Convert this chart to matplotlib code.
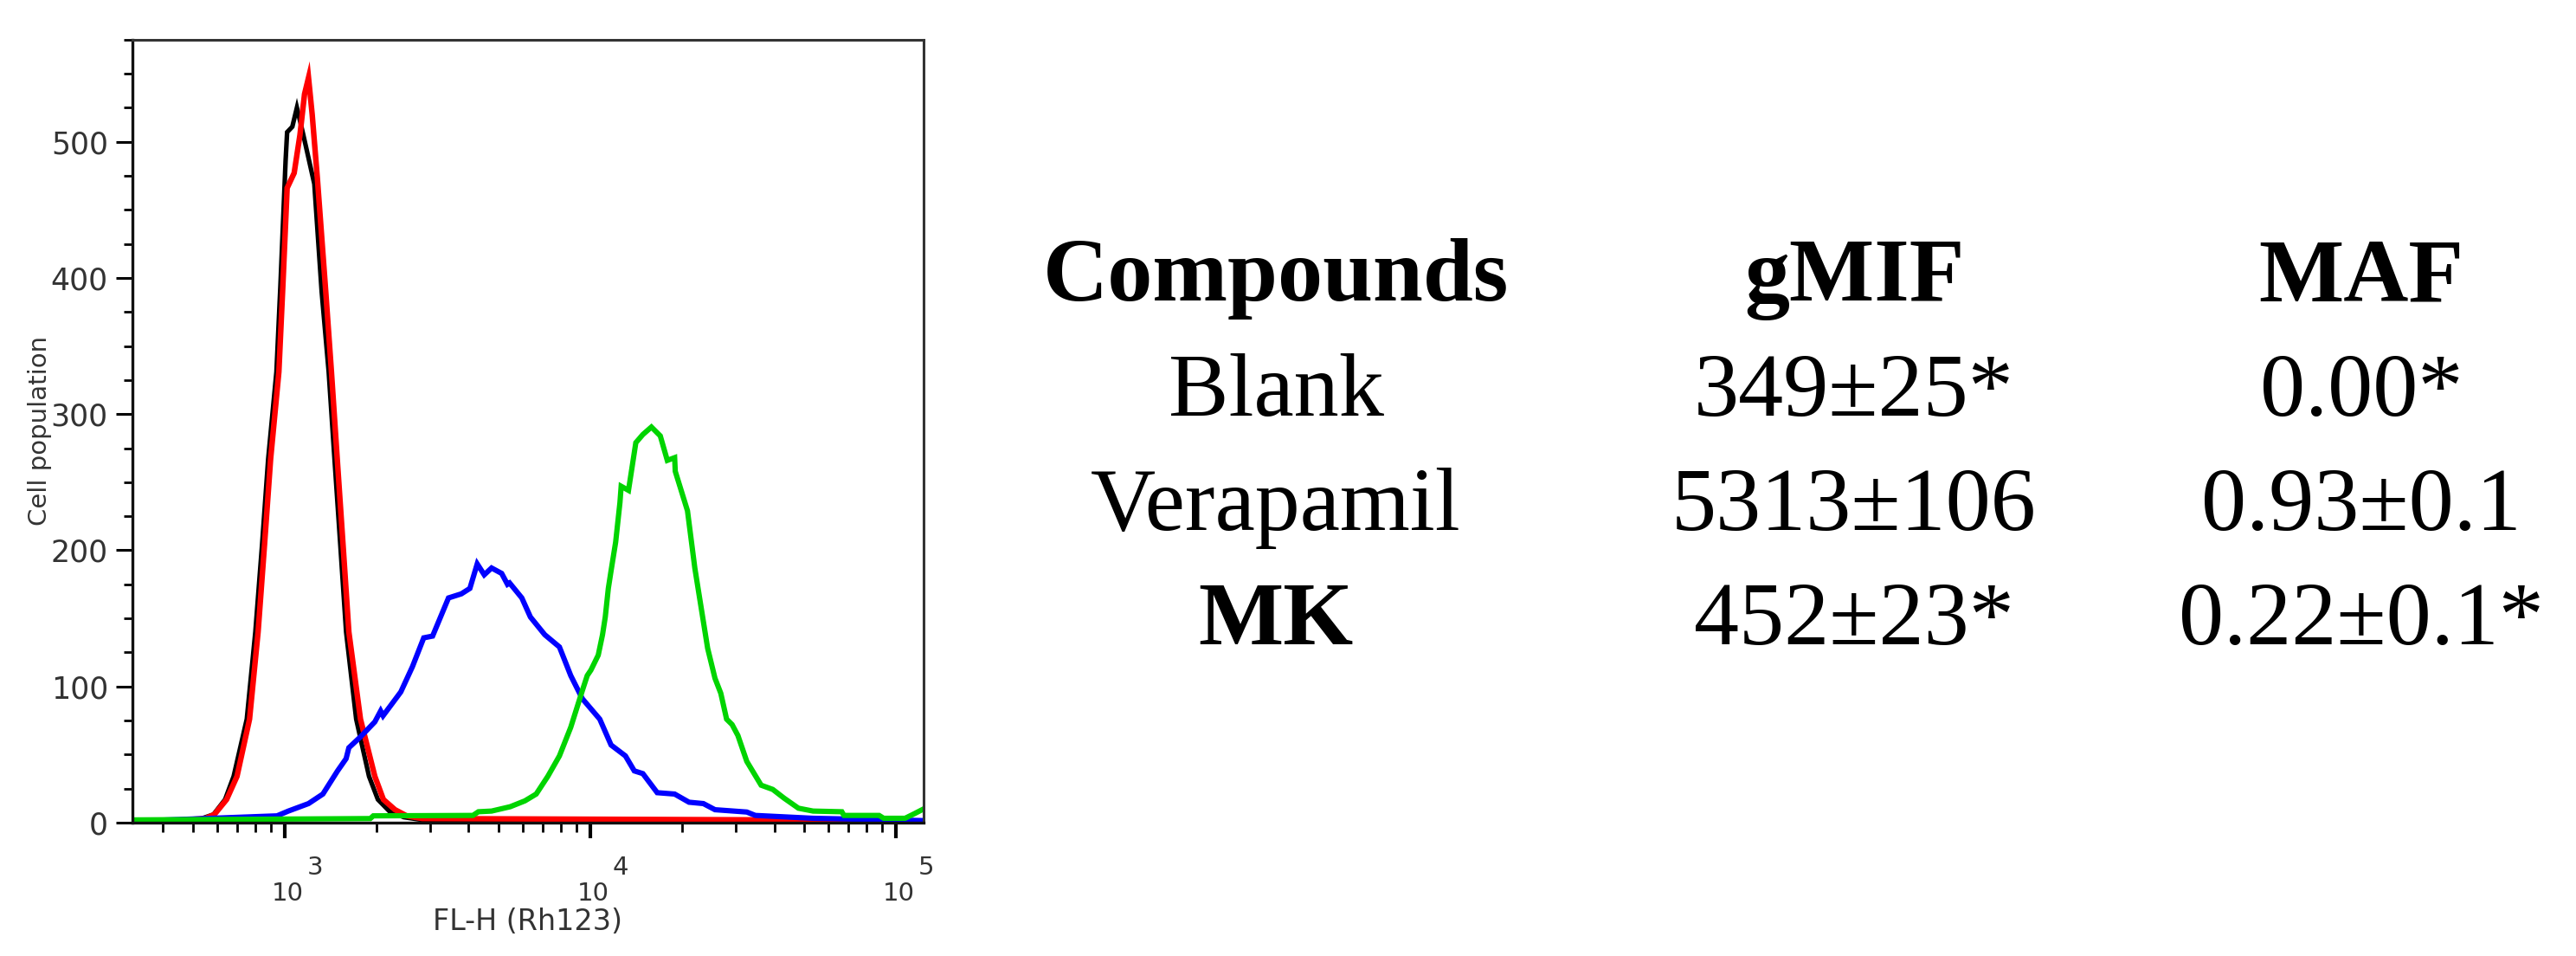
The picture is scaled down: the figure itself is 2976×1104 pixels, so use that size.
import numpy as np
import matplotlib.pyplot as plt
import matplotlib.transforms as mtransforms
from matplotlib.ticker import FixedLocator, MultipleLocator, LogLocator, NullFormatter

W_PX = 2976
H_PX = 1104
DPI = 100

# histogram traces: log10 of FL-H (Rh123) and cell counts
black_log = [2.50, 2.60, 2.70, 2.728, 2.767, 2.805, 2.833, 2.876, 2.904, 2.926, 2.946, 2.973,
             2.986, 3.003, 3.008, 3.025, 3.040, 3.059, 3.097, 3.121, 3.144, 3.163, 3.182,
             3.201, 3.234, 3.276, 3.305, 3.342, 3.39, 3.45, 5.09]
black_cnt = [1, 1, 2, 3, 6, 17, 34, 76, 140, 204, 267, 331,
             394, 486, 507, 511, 525, 507, 469, 390, 331, 267, 204,
             140, 76, 34, 17, 8.5, 4, 2, 1]

red_log = [2.50, 2.60, 2.74, 2.77, 2.81, 2.844, 2.885, 2.913, 2.934, 2.954, 2.981, 2.994,
           3.003, 3.008, 3.031, 3.050, 3.065, 3.078, 3.090, 3.107, 3.135, 3.153, 3.172,
           3.191, 3.210, 3.248, 3.295, 3.323, 3.361, 3.399, 3.45, 4.60, 4.65, 5.09]
red_cnt = [1, 1, 3, 6, 17, 34, 76, 140, 204, 267, 331, 394,
           440, 466, 477, 505, 535, 547, 520, 473, 388, 331, 267,
           204, 140, 76, 34, 17, 9.5, 5, 3, 2, 1, 1]

blue_log = [2.50, 2.975, 3.012, 3.078, 3.125, 3.173, 3.201, 3.21, 3.248, 3.295, 3.314, 3.322,
            3.38, 3.418, 3.455, 3.484, 3.536, 3.578, 3.606, 3.630, 3.653, 3.677, 3.71,
            3.729, 3.736, 3.776, 3.804, 3.851, 3.899, 3.936, 3.974, 4.031, 4.068, 4.115,
            4.144, 4.172, 4.219, 4.276, 4.323, 4.37, 4.408, 4.512, 4.54, 4.729, 5.09]
blue_cnt = [1, 5, 8.5, 14, 21, 38, 47, 55, 63, 74, 82, 78.5,
            96, 114.5, 135.7, 137, 165, 168, 172, 190, 182, 187, 183,
            175, 176, 165, 151, 138, 129, 108, 91, 76, 57, 49,
            38, 36, 22, 21, 15, 14, 9.5, 7.8, 5.3, 3.2, 1.5]

green_log = [2.50, 3.28, 3.29, 3.616, 3.634, 3.677, 3.738, 3.786, 3.823, 3.861, 3.899, 3.936,
             3.974, 3.99, 4.002, 4.026, 4.04, 4.049, 4.059, 4.068, 4.083, 4.097, 4.101,
             4.125, 4.149, 4.172, 4.2, 4.229, 4.252, 4.276, 4.278, 4.318, 4.342, 4.384,
             4.408, 4.427, 4.446, 4.464, 4.483, 4.512, 4.559, 4.597, 4.634, 4.681, 4.729,
             4.823, 4.83, 4.945, 4.96, 5.03, 5.059, 5.09]
green_cnt = [2, 3, 5, 5.3, 8, 8.5, 11.7, 16, 21, 34, 49, 70,
             97, 108, 112, 123, 138, 151, 172, 185, 206, 235, 247,
             244, 279, 285, 290.5, 284, 266, 268, 258, 229, 187, 128,
             106, 95, 76, 72, 64, 45, 27.5, 24.4, 18, 10.6, 8.5,
             8, 5.3, 5.3, 3.2, 3.2, 6.4, 10]

decades = [3, 4, 5]
y_major = [0, 100, 200, 300, 400, 500]

table_header = ["Compounds", "gMIF", "MAF"]
compounds = ["Blank", "Verapamil", "MK"]
gmif = ["349±25*", "5313±106", "452±23*"]
maf = ["0.00*", "0.93±0.1", "0.22±0.1*"]
bold_compounds = ["MK"]


def px_to_fig(x, y):
    return x / W_PX, 1 - y / H_PX


fig = plt.figure(figsize=(W_PX / DPI, H_PX / DPI), dpi=DPI)

ax_l, ax_t, ax_r, ax_b = 152.7, 45.7, 1066.7, 950.0
ax = fig.add_axes([ax_l / W_PX, 1 - ax_b / H_PX, (ax_r - ax_l) / W_PX, (ax_b - ax_t) / H_PX])

traces = [
    (black_log, black_cnt, "#000000", 3.8),
    (red_log, red_cnt, "#ff0000", 4.6),
    (blue_log, blue_cnt, "#0000ff", 4.4),
    (green_log, green_cnt, "#00d400", 4.4),
]
for lg, cnt, col, lw in traces:
    ax.plot(10 ** np.array(lg), cnt, color=col, lw=lw, solid_joinstyle="miter")

ax.set_xscale("log")
ax.set_xlim(10 ** 2.501, 10 ** 5.0897)
ax.set_ylim(0, 575)

ax.yaxis.set_major_locator(FixedLocator(y_major))
ax.yaxis.set_minor_locator(MultipleLocator(25))
ax.xaxis.set_major_locator(LogLocator(base=10, numticks=10))
ax.xaxis.set_minor_locator(LogLocator(base=10, subs=range(2, 10), numticks=20))
ax.xaxis.set_major_formatter(NullFormatter())
ax.xaxis.set_minor_formatter(NullFormatter())

ax.tick_params(axis="y", which="major", direction="out", length=14, width=2.2,
               labelsize=25, labelcolor="#333333", pad=6)
ax.tick_params(axis="y", which="minor", direction="out", length=7, width=2.0)
ax.tick_params(axis="x", which="major", direction="out", length=13, width=3.0)
ax.tick_params(axis="x", which="minor", direction="out", length=8, width=2.0)

for side in ["left", "bottom"]:
    ax.spines[side].set_linewidth(2.4)
    ax.spines[side].set_color("#111111")
for side in ["top", "right"]:
    ax.spines[side].set_linewidth(2.2)
    ax.spines[side].set_color("#333333")

# decade labels: "10" with a large exponent, as the cytometer software draws them
base_tr = mtransforms.offset_copy(ax.get_xaxis_transform(), fig=fig, x=3 * 72 / DPI, y=0, units="points")
sup_tr = mtransforms.offset_copy(ax.get_xaxis_transform(), fig=fig, x=26 * 72 / DPI, y=0, units="points")
for d in decades:
    ax.text(10 ** d, -0.1, "10", transform=base_tr, ha="center", va="baseline",
            fontsize=21, color="#333333")
    ax.text(10 ** d, -0.066, str(d), transform=sup_tr, ha="left", va="baseline",
            fontsize=21, color="#333333")

ax.text(0.5, -0.137, "FL-H (Rh123)", transform=ax.transAxes, ha="center", va="baseline",
        fontsize=24, color="#333333")
ax.text(-0.117, 0.5, "Cell population", transform=ax.transAxes, ha="center", va="center",
        rotation=90, fontsize=21, color="#333333")

# table on the right
col_x = [1474, 2142, 2728]
row_y = [347, 480, 612, 744]
serif = "Liberation Serif"
fs = 75

for cx, txt in zip(col_x, table_header):
    fx, fy = px_to_fig(cx, row_y[0])
    fig.text(fx, fy, txt, ha="center", va="baseline", fontsize=fs, family=serif, weight="bold")

for i, (c, g, m) in enumerate(zip(compounds, gmif, maf)):
    wt = "bold" if c in bold_compounds else "normal"
    for cx, txt, w in zip(col_x, [c, g, m], [wt, "normal", "normal"]):
        fx, fy = px_to_fig(cx, row_y[i + 1])
        fig.text(fx, fy, txt, ha="center", va="baseline", fontsize=fs, family=serif, weight=w)

fig.savefig("out.png", dpi=DPI, facecolor="white")
